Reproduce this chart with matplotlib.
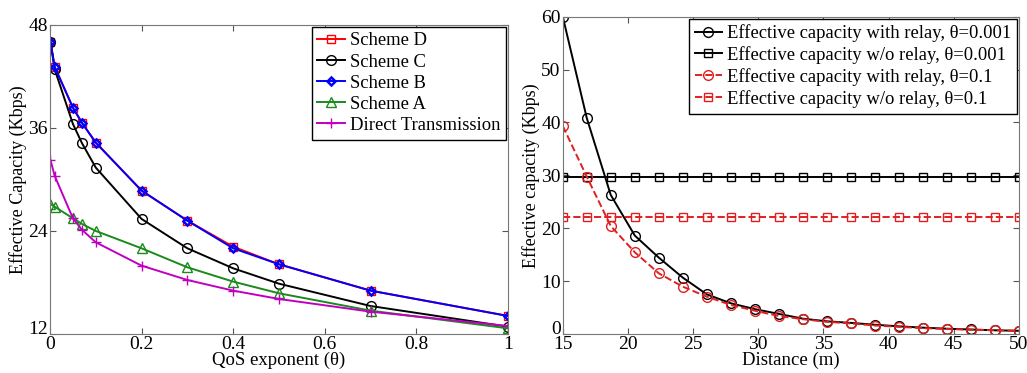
import matplotlib
matplotlib.use('Agg')
import matplotlib.pyplot as plt
from matplotlib.transforms import ScaledTranslation

plt.rcParams['font.family'] = ['Liberation Serif', 'DejaVu Serif']
plt.rcParams['mathtext.fontset'] = 'stix'

# left panel: effective capacity vs QoS exponent
theta = [0.001, 0.01, 0.05, 0.07, 0.1, 0.2, 0.3, 0.4, 0.5, 0.7, 1.0]
scheme_d = [46.06, 43.15, 38.37, 36.58, 34.29, 28.70, 25.20, 22.17, 20.12, 17.05, 14.10]
scheme_c = [46.06, 42.87, 36.47, 34.21, 31.38, 25.40, 21.98, 19.65, 17.86, 15.26, 12.85]
scheme_b = [46.06, 43.15, 38.37, 36.58, 34.29, 28.70, 25.20, 21.98, 20.12, 17.05, 14.10]
scheme_a = [27.15, 26.83, 25.48, 24.82, 24.00, 21.98, 19.77, 18.10, 16.74, 14.72, 12.66]
direct = [32.27, 30.45, 25.48, 24.12, 22.68, 19.96, 18.29, 17.05, 16.08, 14.60, 12.93]

# right panel: effective capacity vs distance
distance = [15, 16.84, 18.68, 20.53, 22.37, 24.21, 26.05, 27.89, 29.74, 31.58,
            33.42, 35.26, 37.11, 38.95, 40.79, 42.63, 44.47, 46.32, 48.16, 50]
relay_001 = [60.0, 40.84, 26.29, 18.6, 14.44, 10.66, 7.5, 5.81, 4.7, 3.8,
             2.9, 2.4, 2.1, 1.75, 1.45, 1.2, 1.0, 0.85, 0.7, 0.6]
norelay_001 = [29.6] * 20
relay_01 = [39.33, 29.75, 20.42, 15.44, 11.47, 8.95, 7.06, 5.5, 4.4, 3.4,
            2.8, 2.3, 2.0, 1.6, 1.35, 1.1, 0.95, 0.8, 0.72, 0.6]
norelay_01 = [22.1] * 20

fig = plt.figure(figsize=(10.27, 3.73), dpi=100)
ax1 = fig.add_axes([0.0487, 0.1046, 0.4459, 0.8284])
ax2 = fig.add_axes([0.548, 0.1046, 0.444, 0.8506])

lw = 1.4
ms = 6
leg_kw = dict(loc='upper right', fontsize=13.4, fancybox=False, edgecolor='black',
              handlelength=1.5, handletextpad=0.25, borderpad=0.3, labelspacing=0.22,
              borderaxespad=0.1, framealpha=1)

ax1.plot(theta, scheme_d, color='red', marker='s', mfc='none', mec='red', ms=ms, lw=lw, label='Scheme D')
ax1.plot(theta, scheme_c, color='black', marker='o', mfc='none', ms=ms + 1, lw=lw, label='Scheme C')
ax1.plot(theta, scheme_b, color='blue', marker='D', mfc='none', mew=1.8, ms=4.5, lw=lw, label='Scheme B')
ax1.plot(theta, scheme_a, color='#1a8a1a', marker='^', mfc='none', ms=ms + 1, lw=lw, label='Scheme A')
ax1.plot(theta, direct, color='#c000c0', marker='+', ms=ms + 1, lw=lw, label='Direct Transmission')

ax1.set_xlim(0, 1)
ax1.set_ylim(12, 48)
ax1.set_xticks([0, 0.2, 0.4, 0.6, 0.8, 1])
ax1.set_xticklabels(['0', '0.2', '0.4', '0.6', '0.8', '1'])
ax1.set_yticks([12, 24, 36, 48])
ax1.set_xlabel('QoS exponent (θ)', fontsize=13.5, labelpad=-1)
ax1.set_ylabel('Effective Capacity (Kbps)', fontsize=13, labelpad=1)
ax1.legend(**leg_kw)

ax2.plot(distance, relay_001, color='black', marker='o', mfc='none', ms=ms + 1, lw=lw,
         label='Effective capacity with relay, θ=0.001')
ax2.plot(distance, norelay_001, color='black', marker='s', mfc='none', ms=ms, lw=lw,
         label='Effective capacity w/o relay, θ=0.001')
ax2.plot(distance, relay_01, color='#e02020', ls='--', marker='o', mfc='none', ms=ms + 1, lw=lw,
         label='Effective capacity with relay, θ=0.1')
ax2.plot(distance, norelay_01, color='#e02020', ls='--', marker='s', mfc='none', ms=ms, lw=lw,
         label='Effective capacity w/o relay, θ=0.1')

ax2.set_xlim(15, 50)
ax2.set_ylim(0, 60)
ax2.set_xticks(range(15, 51, 5))
ax2.set_yticks(range(0, 61, 10))
ax2.set_xlabel('Distance (m)', fontsize=13.5, labelpad=-1)
ax2.set_ylabel('Effective capacity (Kbps)', fontsize=13, labelpad=1)
ax2.legend(**leg_kw)

for ax in (ax1, ax2):
    ax.tick_params(direction='in', top=True, right=True, labelsize=14, pad=1.5,
                   color='#555555', length=4)
    for sp in ax.spines.values():
        sp.set_color('#777777')
    # nudge the lowest y tick label up so it clears the first x tick label
    lab = ax.get_yticklabels()[0]
    lab.set_transform(lab.get_transform() + ScaledTranslation(0, 5 / 72, fig.dpi_scale_trans))

fig.savefig('out.png', dpi=100)
